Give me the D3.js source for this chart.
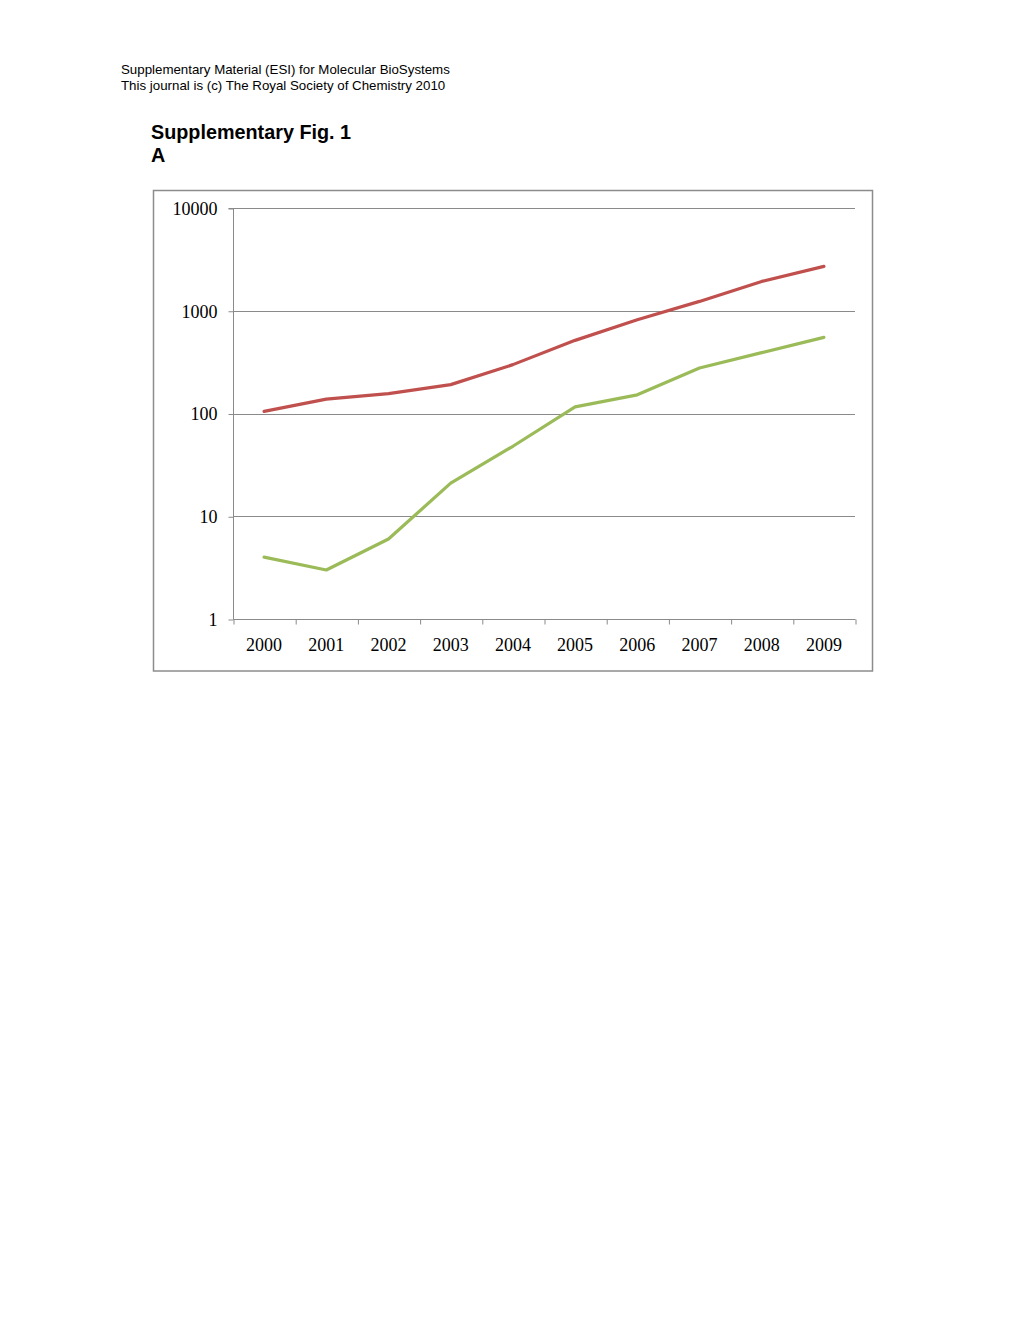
<!DOCTYPE html>
<html>
<head>
<meta charset="utf-8">
<script src="https://cdn.jsdelivr.net/npm/d3@7"></script>
<style>
  html, body { margin: 0; padding: 0; background: #fff; }
  svg { display: block; }
</style>
</head>
<body>
<svg id="chart" width="1020" height="1320"></svg>
<script>
const years = ["2000","2001","2002","2003","2004","2005","2006","2007","2008","2009"];
const redSeries = [105, 138, 156, 191, 299, 515, 818, 1233, 1930, 2703];
const greenSeries = [4, 3, 6, 21, 48, 116, 152, 277, 391, 550];
const yTickValues = [1, 10, 100, 1000, 10000];
const headerLines = ["Supplementary Material (ESI) for Molecular BioSystems", "This journal is (c) The Royal Society of Chemistry 2010"];
const titleLines = ["Supplementary Fig. 1", "A"];

const svg = d3.select("#chart");

// header
svg.selectAll("text.header").data(headerLines).join("text")
  .attr("class", "header")
  .attr("x", 121)
  .attr("y", (d, i) => 74 + i * 15.5)
  .attr("font-family", "Liberation Sans, Arial, sans-serif")
  .attr("font-size", 13.3)
  .attr("fill", "#000")
  .text(d => d);

svg.selectAll("text.title").data(titleLines).join("text")
  .attr("class", "title")
  .attr("x", 151)
  .attr("y", (d, i) => 139 + i * 23)
  .attr("font-family", "Liberation Sans, Arial, sans-serif")
  .attr("font-size", 19.8)
  .attr("font-weight", "bold")
  .attr("fill", "#000")
  .text(d => d);

// frame
svg.append("rect")
  .attr("x", 153.5).attr("y", 190.5)
  .attr("width", 719).attr("height", 480.5)
  .attr("fill", "none")
  .attr("stroke", "#8c8c8c")
  .attr("stroke-width", 1.5);

const plot = { left: 233, right: 855, top: 208, bottom: 619 };

const x = d3.scaleBand().domain(years).range([plot.left, plot.right]).padding(0);
const xEdge = d3.scaleLinear().domain([0, years.length]).range([plot.left, plot.right]);
const y = d3.scaleLog().domain([1, 10000]).range([plot.bottom, plot.top]);

const g = svg.append("g");

// gridlines
g.append("g")
  .selectAll("line").data(yTickValues.slice(1)).join("line")
  .attr("x1", plot.left).attr("x2", plot.right)
  .attr("y1", d => Math.round(y(d)) + 0.5).attr("y2", d => Math.round(y(d)) + 0.5)
  .attr("stroke", "#8a8a8a").attr("stroke-width", 1);

// y axis
const yAxis = g.append("g")
  .attr("transform", `translate(${plot.left + 0.5},0.5)`)
  .call(d3.axisLeft(y).tickValues(yTickValues).tickFormat(d3.format("d")).tickSize(5).tickPadding(11));
yAxis.select(".domain").attr("stroke", "#8a8a8a").attr("d", `M-5,${plot.top}H0V${plot.bottom}`);
yAxis.selectAll(".tick line").attr("stroke", "#8a8a8a");
yAxis.selectAll(".tick text")
  .attr("font-family", "Liberation Serif, Cambria, serif")
  .attr("font-size", 18)
  .attr("fill", "#000");

// x axis ticks at category boundaries
const xTicks = g.append("g")
  .attr("transform", `translate(0.5,${plot.bottom + 0.5})`)
  .call(d3.axisBottom(xEdge).ticks(years.length).tickFormat("").tickSize(5));
xTicks.select(".domain").attr("stroke", "#8a8a8a").attr("d", `M${plot.left},0H${plot.right}`);
xTicks.selectAll(".tick line").attr("stroke", "#8a8a8a");

// x labels
const xLabels = g.append("g")
  .attr("transform", `translate(0,${plot.bottom})`)
  .call(d3.axisBottom(x).tickSize(0).tickPadding(19));
xLabels.select(".domain").remove();
xLabels.selectAll(".tick text")
  .attr("font-family", "Liberation Serif, Cambria, serif")
  .attr("font-size", 18)
  .attr("fill", "#000");

// lines
const line = d3.line()
  .x((d, i) => x(years[i]) + x.bandwidth() / 2)
  .y(d => y(d));

g.append("path").datum(greenSeries)
  .attr("d", line)
  .attr("fill", "none")
  .attr("stroke", "#9BBB59")
  .attr("stroke-width", 3.2)
  .attr("stroke-linejoin", "round")
  .attr("stroke-linecap", "round");

g.append("path").datum(redSeries)
  .attr("d", line)
  .attr("fill", "none")
  .attr("stroke", "#C0504D")
  .attr("stroke-width", 3.2)
  .attr("stroke-linejoin", "round")
  .attr("stroke-linecap", "round");
</script>
</body>
</html>
